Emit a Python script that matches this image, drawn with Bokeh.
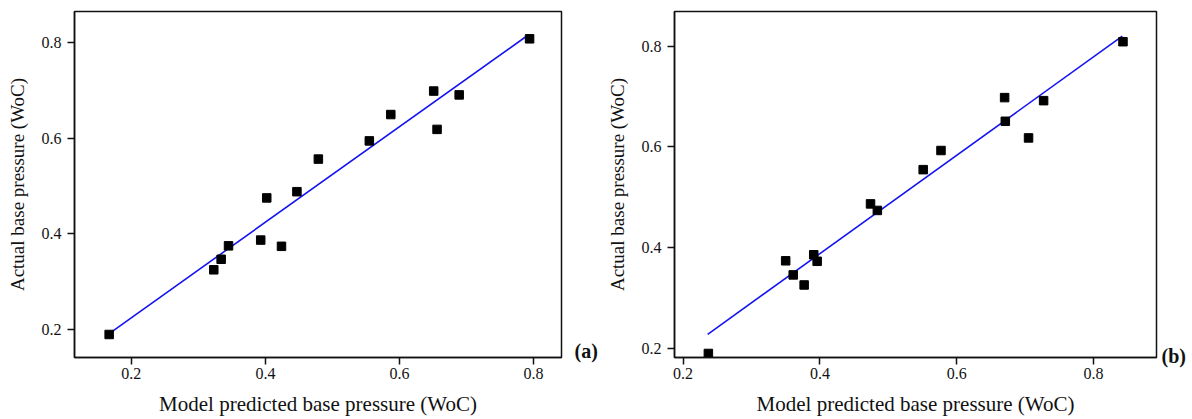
from bokeh.plotting import figure
from bokeh.layouts import row
from bokeh.models import Range1d, LinearAxis, FixedTicker
from bokeh.embed import file_html
from bokeh.resources import INLINE

# ---- data ----
pred_a = [0.167, 0.323, 0.334, 0.345, 0.393, 0.402, 0.424, 0.447, 0.479, 0.555, 0.587, 0.651, 0.656, 0.689, 0.794]
act_a = [0.190, 0.325, 0.347, 0.375, 0.387, 0.475, 0.374, 0.488, 0.556, 0.594, 0.649, 0.698, 0.618, 0.690, 0.807]
fit_a_x = [0.167, 0.792]
fit_a_y = [0.192, 0.815]

pred_b = [0.237, 0.350, 0.361, 0.377, 0.391, 0.396, 0.474, 0.484, 0.551, 0.577, 0.670, 0.671, 0.705, 0.727, 0.843]
act_b = [0.190, 0.374, 0.346, 0.326, 0.386, 0.373, 0.487, 0.474, 0.555, 0.593, 0.698, 0.651, 0.618, 0.692, 0.809]
fit_b_x = [0.236, 0.842]
fit_b_y = [0.228, 0.820]

ticks = [0.2, 0.4, 0.6, 0.8]
x_title = "Model predicted base pressure (WoC)"
y_title = "Actual base pressure (WoC)"

FONT = "Liberation Serif"
TXT = "#111111"


def make_panel(xs, ys, fx, fy, xr, yr, width, bl, br, bt, bb, tag, tag_y, tag_standoff):
    p = figure(width=width, height=419, output_backend="svg", toolbar_location=None,
               x_range=Range1d(*xr), y_range=Range1d(*yr),
               min_border_left=bl, min_border_right=br,
               min_border_top=bt, min_border_bottom=bb)
    p.grid.visible = False
    p.background_fill_color = "white"
    p.border_fill_color = "white"
    p.outline_line_color = "#111111"
    p.outline_line_width = 1.5
    p.outline_line_alpha = 1.0
    for ax in (p.xaxis[0], p.yaxis[0]):
        ax.ticker = ticks
        ax.axis_line_color = "#111111"
        ax.axis_line_width = 1.5
        ax.major_tick_line_color = "#111111"
        ax.major_tick_line_width = 1.5
        ax.major_tick_in = 0
        ax.major_tick_out = 7
        ax.minor_tick_line_color = None
        ax.major_label_text_font = FONT
        ax.major_label_text_font_size = "16px"
        ax.major_label_text_color = TXT
        ax.axis_label_text_font = FONT
        ax.axis_label_text_font_style = "normal"
        ax.axis_label_text_color = TXT
    p.xaxis.axis_label = x_title
    p.xaxis.axis_label_text_font_size = "21px"
    p.xaxis.major_label_standoff = 3
    p.xaxis.axis_label_standoff = 10
    p.yaxis.axis_label = y_title
    p.yaxis.axis_label_text_font_size = "19px"
    p.yaxis.major_label_standoff = 6
    p.yaxis.axis_label_standoff = 11

    p.line(fx, fy, line_color="#1414f0", line_width=1.6)
    p.scatter(xs, ys, marker="square", size=8.5, fill_color="black", line_color="black")

    # panel tag "(a)" / "(b)" to the right of the frame, as a label of an extra right axis
    tag_axis = LinearAxis(ticker=FixedTicker(ticks=[tag_y]),
                          major_label_overrides={tag_y: tag},
                          axis_line_color=None, major_tick_line_color=None,
                          minor_tick_line_color=None, major_tick_in=0, major_tick_out=0,
                          major_label_standoff=tag_standoff,
                          major_label_text_font=FONT, major_label_text_font_style="bold",
                          major_label_text_font_size="20px", major_label_text_color=TXT)
    p.add_layout(tag_axis, "right")
    return p


p1 = make_panel(pred_a, act_a, fit_a_x, fit_a_y, (0.1153, 0.8416), (0.142, 0.864),
                600, 74, 37, 11, 61, "(a)", 0.1565, 13)
p2 = make_panel(pred_b, act_b, fit_b_x, fit_b_y, (0.1875, 0.892), (0.182, 0.869),
                592, 74, 36, 9, 62, "(b)", 0.184, 5)

layout = row(p1, p2)
open("out.html", "w").write(file_html(layout, INLINE))
